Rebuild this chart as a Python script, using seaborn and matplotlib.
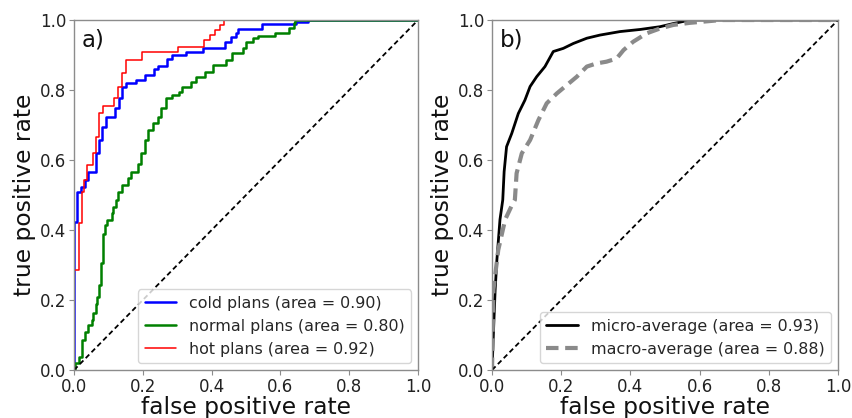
import numpy as np
import pandas as pd
import matplotlib
matplotlib.use("Agg")
import matplotlib.pyplot as plt
import seaborn as sns

# ROC curve vertices (false positive rate, true positive rate) per class
cold_fpr = [0, 0, 0.01, 0.019, 0.032, 0.042, 0.064, 0.072, 0.08, 0.092, 0.12, 0.132, 0.14, 0.15,
            0.18, 0.205, 0.232, 0.245, 0.27, 0.285, 0.325, 0.376, 0.44, 0.455, 0.47, 0.478,
            0.545, 0.645, 0.68, 1.0]
cold_tpr = [0, 0.424, 0.51, 0.524, 0.543, 0.567, 0.62, 0.657, 0.695, 0.724, 0.748, 0.776, 0.81, 0.82,
            0.83, 0.843, 0.86, 0.87, 0.888, 0.9, 0.91, 0.921, 0.938, 0.952, 0.962, 0.973,
            0.989, 0.995, 1.0, 1.0]

normal_fpr = [0, 0.003, 0.013, 0.022, 0.032, 0.042, 0.051, 0.056, 0.064, 0.068, 0.074, 0.078, 0.083,
              0.09, 0.097, 0.11, 0.114, 0.121, 0.128, 0.138, 0.156, 0.166, 0.186, 0.195, 0.205,
              0.214, 0.229, 0.245, 0.253, 0.268, 0.286, 0.306, 0.315, 0.34, 0.355, 0.38, 0.405,
              0.443, 0.46, 0.49, 0.5, 0.52, 0.535, 0.585, 0.625, 0.64, 0.642, 1.0]
normal_tpr = [0, 0.019, 0.038, 0.086, 0.11, 0.129, 0.143, 0.162, 0.19, 0.21, 0.243, 0.305, 0.39,
              0.414, 0.43, 0.448, 0.467, 0.486, 0.51, 0.529, 0.548, 0.567, 0.59, 0.62, 0.657,
              0.686, 0.705, 0.724, 0.748, 0.776, 0.786, 0.795, 0.81, 0.824, 0.838, 0.852, 0.871,
              0.886, 0.905, 0.919, 0.938, 0.948, 0.954, 0.964, 0.976, 0.992, 1.0, 1.0]

hot_fpr = [0, 0, 0.013, 0.022, 0.03, 0.039, 0.056, 0.064, 0.072, 0.085, 0.116, 0.128, 0.138, 0.15,
           0.197, 0.303, 0.378, 0.395, 0.41, 0.425, 0.436, 1.0]
hot_tpr = [0, 0.286, 0.419, 0.51, 0.543, 0.586, 0.62, 0.667, 0.733, 0.754, 0.776, 0.81, 0.848, 0.886,
           0.908, 0.924, 0.943, 0.957, 0.971, 0.986, 1.0, 1.0]

micro_fpr = [0, 0.004, 0.009, 0.014, 0.023, 0.031, 0.035, 0.042, 0.057, 0.076, 0.095, 0.11, 0.129,
             0.153, 0.177, 0.206, 0.235, 0.274, 0.312, 0.37, 0.428, 0.486, 0.524, 0.563, 0.582, 1.0]
micro_tpr = [0, 0.105, 0.229, 0.314, 0.43, 0.486, 0.567, 0.638, 0.676, 0.733, 0.771, 0.81, 0.838,
             0.867, 0.91, 0.919, 0.933, 0.948, 0.957, 0.967, 0.973, 0.981, 0.99, 0.998, 1.0, 1.0]

macro_fpr = [0, 0.004, 0.018, 0.038, 0.057, 0.066, 0.071, 0.086, 0.11, 0.134, 0.158, 0.187, 0.216,
             0.245, 0.274, 0.302, 0.331, 0.36, 0.38, 0.408, 0.447, 0.486, 0.524, 0.572, 0.64, 0.66, 1.0]
macro_tpr = [0, 0.229, 0.343, 0.43, 0.47, 0.486, 0.562, 0.619, 0.657, 0.714, 0.762, 0.79, 0.814,
             0.838, 0.867, 0.876, 0.881, 0.89, 0.914, 0.938, 0.962, 0.976, 0.986, 0.992, 0.998, 1.0, 1.0]

class_labels = ["cold plans (area = 0.90)", "normal plans (area = 0.80)", "hot plans (area = 0.92)"]
avg_labels = ["micro-average (area = 0.93)", "macro-average (area = 0.88)"]
ticks = [0.0, 0.2, 0.4, 0.6, 0.8, 1.0]

sns.set_theme(style="ticks", rc={
    "axes.edgecolor": "#8c8c8c",
    "axes.linewidth": 1.0,
    "xtick.color": "#8c8c8c",
    "ytick.color": "#8c8c8c",
    "xtick.labelcolor": "#222222",
    "ytick.labelcolor": "#222222",
    "xtick.major.size": 3.5,
    "ytick.major.size": 3.5,
    "axes.labelcolor": "#111111",
})
plt.rcParams["font.family"] = ["DejaVu Sans"]

fig = plt.figure(figsize=(8.52, 4.18), dpi=100)
ax1 = fig.add_axes([0.0869, 0.1148, 0.4038, 0.8373])
ax2 = fig.add_axes([0.5775, 0.1148, 0.4061, 0.8373])

# panel a: per-class curves, drawn as staircases
for fpr, tpr, color, lw, label in [
    (cold_fpr, cold_tpr, "#0000ff", 1.8, class_labels[0]),
    (normal_fpr, normal_tpr, "#008000", 1.8, class_labels[1]),
    (hot_fpr, hot_tpr, "#ff0000", 1.1, class_labels[2]),
]:
    df = pd.DataFrame({"fpr": fpr, "tpr": tpr})
    sns.lineplot(data=df, x="fpr", y="tpr", ax=ax1, sort=False, estimator=None,
                 color=color, lw=lw, drawstyle="steps-post", label=label)

# panel b: averaged curves
df_micro = pd.DataFrame({"fpr": micro_fpr, "tpr": micro_tpr})
df_macro = pd.DataFrame({"fpr": macro_fpr, "tpr": macro_tpr})
sns.lineplot(data=df_micro, x="fpr", y="tpr", ax=ax2, sort=False, estimator=None,
             color="black", lw=2.0, label=avg_labels[0])
sns.lineplot(data=df_macro, x="fpr", y="tpr", ax=ax2, sort=False, estimator=None,
             color="#8a8a8a", lw=3.0, label=avg_labels[1])
ax2.lines[-1].set_dashes([3.0, 1.6])

for ax, tag in [(ax1, "a)"), (ax2, "b)")]:
    ax.plot([0, 1], [0, 1], color="black", ls="--", lw=1.3, dashes=(2.8, 1.8))
    ax.set_xlim(0, 1)
    ax.set_ylim(0, 1)
    ax.set_xticks(ticks)
    ax.set_yticks(ticks)
    ax.set_xticklabels([f"{t:.1f}" for t in ticks], fontsize=12)
    ax.set_yticklabels([f"{t:.1f}" for t in ticks], fontsize=12)
    ax.tick_params(axis="both", which="major", pad=2, width=0.8)
    ax.set_xlabel("false positive rate", fontsize=16.8, labelpad=0)
    ax.set_ylabel("true positive rate", fontsize=16.8, labelpad=3)
    ax.text(0.022, 0.975, tag, transform=ax.transAxes, ha="left", va="top", fontsize=16.5,
            color="#111111")
    leg = ax.legend(loc="lower right", fontsize=11.4, frameon=True, fancybox=True,
                    framealpha=0.8, borderaxespad=0.45)
    leg.get_frame().set_edgecolor("#cccccc")
    for spine in ax.spines.values():
        spine.set_visible(True)

fig.savefig("out.png", dpi=100)
